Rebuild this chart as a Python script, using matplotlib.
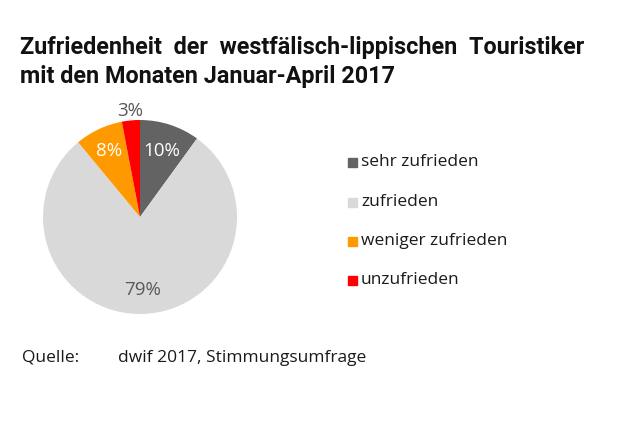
import numpy as np
import matplotlib
matplotlib.use('Agg')
import matplotlib.pyplot as plt

# Data
categories = ['sehr zufrieden', 'zufrieden', 'weniger zufrieden', 'unzufrieden']
values = [10, 79, 8, 3]
colors = ['#636363', '#d9d9d9', '#ff9900', '#ff0000']
label_colors = ['white', '#595959', 'white', '#595959']
label_dist = [0.72, 0.75, 0.75, 1.1]

title_lines = ['Zufriedenheit  der  westfälisch-lippischen  Touristiker',
               'mit den Monaten Januar-April 2017']
source_label = 'Quelle:'
source_text = 'dwif 2017, Stimmungsumfrage'

plt.rcParams['font.family'] = ['Open Sans', 'DejaVu Sans']

W, H = 620, 430
fig = plt.figure(figsize=(W / 100, H / 100), dpi=100)
fig.patch.set_facecolor('white')

# Pie axes: centre (140, 217) px, radius 97 px
cx, cy, r = 140, 217, 97
ax = fig.add_axes([(cx - r) / W, (H - cy - r) / H, 2 * r / W, 2 * r / H])
wedges, _ = ax.pie(values, colors=colors, startangle=90, counterclock=False,
                   radius=1, wedgeprops=dict(linewidth=0))
ax.set_xlim(-1, 1)
ax.set_ylim(-1, 1)
ax.set_aspect('equal')
ax.axis('off')

# Percentage labels
for w, v, c, d in zip(wedges, values, label_colors, label_dist):
    ang = np.deg2rad((w.theta1 + w.theta2) / 2)
    ax.text(d * np.cos(ang), d * np.sin(ang), f'{v}%', color=c,
            fontsize=13.5, ha='center', va='center', clip_on=False)

# Title
for line, y in zip(title_lines, [54, 83]):
    fig.text(20 / W, 1 - y / H, line, fontsize=16.8, fontweight='bold',
             family=['Roboto', 'DejaVu Sans'], color='#111111',
             ha='left', va='baseline')

# Legend
leg_y = [162, 202, 241, 280]
for cat, col, y in zip(categories, colors, leg_y):
    fig.patches.append(plt.Rectangle((348 / W, 1 - (y + 5) / H), 9 / W, 9 / H,
                                     transform=fig.transFigure, color=col))
    fig.text(361 / W, 1 - y / H, cat, fontsize=12.5, color='#1a1a1a',
             ha='left', va='center')

# Source
fig.text(22 / W, 1 - 358 / H, source_label, fontsize=12.5, color='#1a1a1a',
         ha='left', va='center')
fig.text(118 / W, 1 - 358 / H, source_text, fontsize=12.5, color='#1a1a1a',
         ha='left', va='center')

fig.savefig('out.png', dpi=100)
